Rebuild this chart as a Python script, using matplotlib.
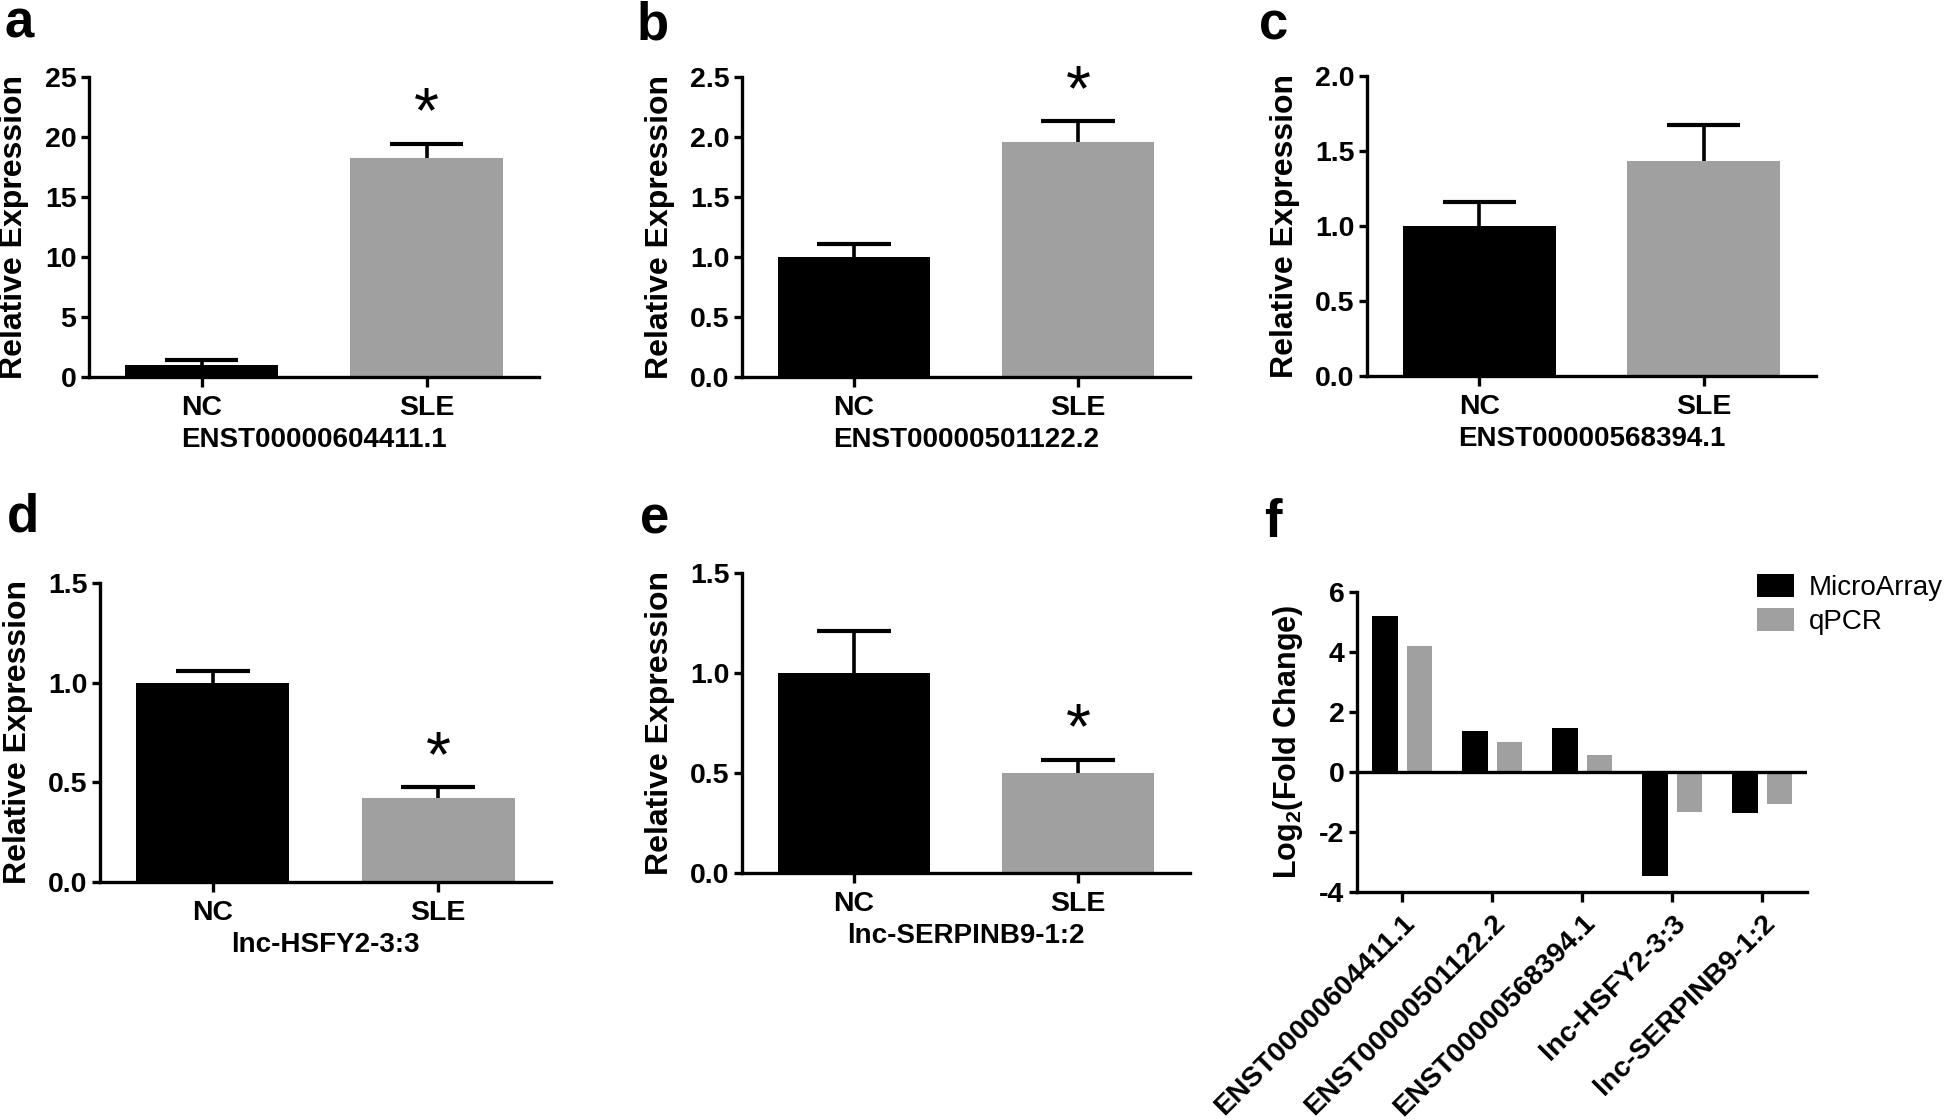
import matplotlib.pyplot as plt
import numpy as np

plt.rcParams['font.family'] = ['Liberation Sans', 'DejaVu Sans']
plt.rcParams['font.weight'] = 'bold'
plt.rcParams['axes.labelweight'] = 'bold'
plt.rcParams['mathtext.fontset'] = 'custom'
plt.rcParams['mathtext.rm'] = 'Liberation Sans:bold'
plt.rcParams['mathtext.bf'] = 'Liberation Sans:bold'

# data
groups = ['NC', 'SLE']
genes = ['ENST00000604411.1', 'ENST00000501122.2', 'ENST00000568394.1',
         'lnc-HSFY2-3:3', 'lnc-SERPINB9-1:2']
nc_mean = [1.0, 1.0, 1.0, 1.0, 1.0]
nc_err = [0.45, 0.105, 0.16, 0.06, 0.21]
sle_mean = [18.25, 1.96, 1.435, 0.42, 0.50]
sle_err = [1.15, 0.17, 0.24, 0.055, 0.065]
significant = [True, True, False, True, True]
y_max = [25, 2.5, 2.0, 1.5, 1.5]
y_step = [5, 0.5, 0.5, 0.5, 0.5]

microarray = [5.19, 1.36, 1.48, -3.47, -1.36]
qpcr = [4.20, 1.01, 0.58, -1.33, -1.06]

GRAY = '#a0a0a0'
W, H = 1946, 1120
LW = 2.4
TICK_FONT = dict(fontsize=20.5, fontweight='bold', family='Liberation Sans')


def px_rect(x0, y0, x1, y1):
    # pixel box (top-left origin) -> figure fraction rect
    return [x0 / W, 1 - y1 / H, (x1 - x0) / W, (y1 - y0) / H]


def style_axes(ax):
    for s in ['top', 'right']:
        ax.spines[s].set_visible(False)
    for s in ['left', 'bottom']:
        ax.spines[s].set_linewidth(LW)
    ax.tick_params(axis='both', width=LW)
    ax.tick_params(axis='x', length=7, pad=6)
    ax.tick_params(axis='y', length=6, pad=3)


def expression_panel(ax, i):
    x = np.arange(len(groups))
    means = [nc_mean[i], sle_mean[i]]
    errs = [nc_err[i], sle_err[i]]
    ax.bar(x, means, width=0.68, color=['black', GRAY], zorder=2)
    tops = np.array(means) + np.array(errs)
    ax.vlines(x, means, tops, color='black', lw=2.6, zorder=3)
    ax.hlines(tops, x - 0.163, x + 0.163, color='black', lw=3.0, zorder=3)
    if significant[i]:
        ax.annotate('*', xy=(1, tops[1]), xytext=(0, -1), textcoords='offset points',
                    ha='center', va='bottom', fontsize=46, fontweight='normal')
    ax.set_xlim(-0.5, 1.5)
    ax.set_ylim(0, y_max[i])
    ticks = np.arange(0, y_max[i] + y_step[i] / 2, y_step[i])
    ax.set_yticks(ticks)
    if y_step[i] >= 1:
        ax.set_yticklabels(['%d' % t for t in ticks], **TICK_FONT)
    else:
        ax.set_yticklabels(['%.1f' % t for t in ticks], **TICK_FONT)
    ax.set_xticks(x)
    ax.set_xticklabels(groups, **TICK_FONT)
    ax.set_xlabel(genes[i], fontsize=20, labelpad=4)
    ax.set_ylabel('Relative Expression', fontsize=23, labelpad=11)
    style_axes(ax)


fig = plt.figure(figsize=(W / 100, H / 100), dpi=100)

rects = [px_rect(89, 77, 539, 377), px_rect(742, 77, 1190, 377),
         px_rect(1367, 76, 1816, 376), px_rect(100, 583, 551, 882),
         px_rect(742, 573, 1190, 873)]
for i, r in enumerate(rects):
    ax = fig.add_axes(r)
    expression_panel(ax, i)

# panel f
ax = fig.add_axes(px_rect(1357, 592, 1807, 892))
x = np.arange(len(genes))
ax.bar(x - 0.19, microarray, width=0.28, color='black', label='MicroArray', zorder=2)
ax.bar(x + 0.19, qpcr, width=0.28, color=GRAY, label='qPCR', zorder=2)
ax.axhline(0, color='black', lw=LW, zorder=3)
ax.set_xlim(-0.5, 4.5)
ax.set_ylim(-4, 6)
yt = np.arange(-4, 7, 2)
ax.set_yticks(yt)
ax.set_yticklabels(['%d' % t for t in yt], **TICK_FONT)
ax.set_xticks(x)
ax.set_xticklabels(genes, rotation=45, ha='right', rotation_mode='anchor', **TICK_FONT)
ax.set_ylabel(r'Log$_{\mathbf{2}}$(Fold Change)', fontsize=22, labelpad=10)
style_axes(ax)
leg = ax.legend(loc='upper left', bbox_to_anchor=(1757 / W, 1 - 574 / H),
                bbox_transform=fig.transFigure, frameon=False, borderpad=0,
                borderaxespad=0, handlelength=1.33, handleheight=0.9,
                handletextpad=0.55, labelspacing=0.25,
                prop={'family': 'Liberation Sans', 'weight': 'normal', 'size': 20})

# panel letters
for letter, (px, py) in zip('abcdef', [(5, 38), (637, 40), (1259, 40),
                                       (7, 531), (640, 533), (1264, 537)]):
    fig.text(px / W, 1 - py / H, letter, fontsize=38, fontweight='bold',
             ha='left', va='baseline')

fig.savefig('out.png', dpi=100)
